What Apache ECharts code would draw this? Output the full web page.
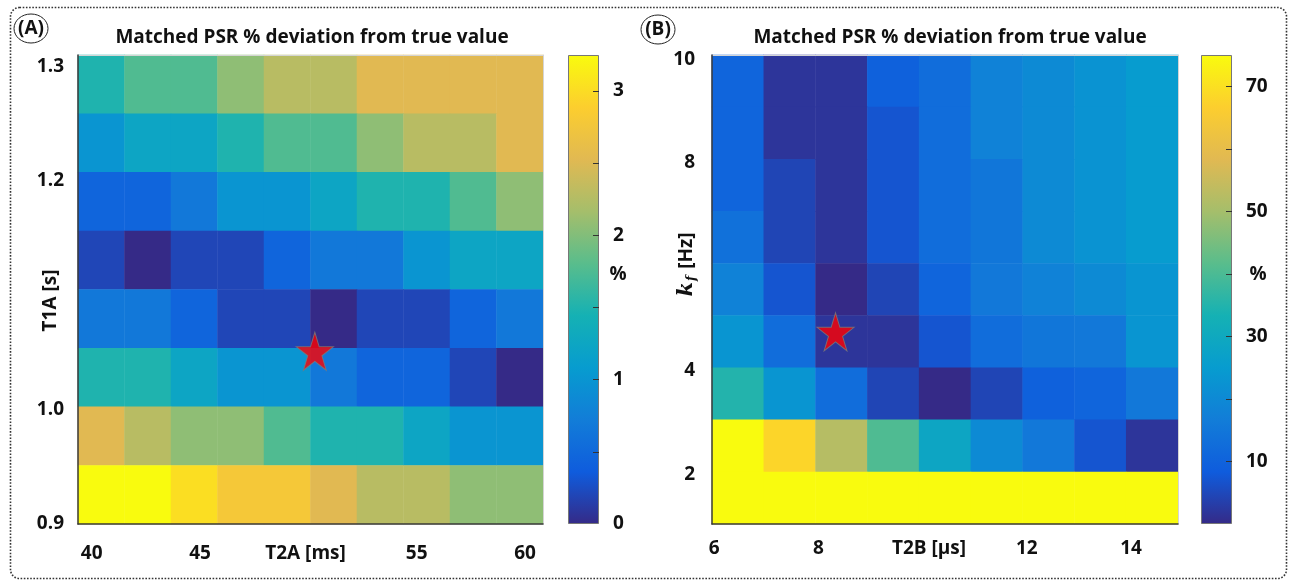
<!DOCTYPE html>
<html>
<head>
<meta charset="utf-8">
<title>Matched PSR % deviation from true value</title>
<script src="https://cdn.jsdelivr.net/npm/echarts@6/dist/echarts.min.js"></script>
<style>
  html, body { margin: 0; padding: 0; background: #fff; }
  #chart { width: 1290px; height: 582px; }
</style>
</head>
<body>
<div id="chart"></div>
<script>
// ---- panel A: T2A columns x T1A rows (rows listed top to bottom) ----
const t2aCells = ['40.4', '42.6', '44.7', '46.9', '49.0', '51.2', '53.3', '55.5', '57.6', '59.8'];
const t1aCells = ['1.28', '1.23', '1.18', '1.13', '1.08', '1.03', '0.98', '0.93'];
const psrDevA = [
  [1.50, 1.76, 1.76, 2.06, 2.28, 2.28, 2.53, 2.53, 2.53, 2.53],
  [1.00, 1.23, 1.23, 1.50, 1.76, 1.76, 2.06, 2.28, 2.28, 2.53],
  [0.46, 0.46, 0.67, 1.00, 1.00, 1.23, 1.50, 1.50, 1.76, 2.06],
  [0.20, 0.00, 0.20, 0.20, 0.46, 0.67, 0.67, 1.00, 1.23, 1.23],
  [0.67, 0.67, 0.46, 0.20, 0.20, 0.00, 0.20, 0.20, 0.46, 0.67],
  [1.50, 1.50, 1.23, 1.00, 1.00, 0.67, 0.46, 0.46, 0.20, 0.00],
  [2.53, 2.28, 2.06, 2.06, 1.76, 1.50, 1.50, 1.23, 1.00, 1.00],
  [3.25, 3.25, 3.02, 2.79, 2.79, 2.53, 2.28, 2.28, 2.06, 2.06]
];
const t2aTicks = [40, 45, 55, 60];
const t1aTicks = [0.9, 1.0, 1.2, 1.3];
const cbarLabelsA = [0, 1, 2, 3];
const cbarTicksA = [0.5, 1, 1.5, 2, 2.5, 3];
const matchA = [50.3, 1.051];

// ---- panel B: T2B columns x kf rows (rows listed top to bottom) ----
const t2bCells = ['6.5', '7.5', '8.5', '9.5', '10.4', '11.4', '12.4', '13.4', '14.4'];
const kfCells = ['9.6', '8.6', '7.6', '6.6', '5.6', '4.6', '3.6', '2.5', '1.5'];
const psrDevB = [
  [10.7, 1.8, 1.8, 9.5, 12.5, 17.9, 20.2, 22.6, 25.0],
  [10.7, 1.8, 1.8, 7.1, 12.5, 17.9, 20.2, 22.6, 25.0],
  [10.7, 4.5, 1.8, 7.1, 12.5, 14.9, 20.2, 22.6, 25.0],
  [13.7, 4.5, 1.8, 7.1, 12.5, 14.9, 20.2, 22.6, 25.0],
  [17.9, 7.1, 0.0, 4.5, 10.7, 15.5, 17.9, 20.2, 23.2],
  [23.2, 12.5, 1.8, 1.8, 7.1, 12.5, 14.9, 15.5, 23.2],
  [35.0, 23.2, 12.5, 4.5, 0.0, 4.5, 9.5, 10.7, 15.5],
  [75.0, 67.9, 52.4, 40.5, 28.6, 20.2, 15.5, 7.1, 1.8],
  [75.0, 75.0, 75.0, 75.0, 75.0, 75.0, 75.0, 75.0, 75.0]
];
const t2bTicks = [6, 8, 12, 14];
const kfTicks = [2, 4, 8, 10];
const cbarLabelsB = [10, 30, 50, 70];
const cbarTicksB = [10, 20, 30, 40, 50, 60, 70];
const matchB = [8.33, 4.75];

// parula (MATLAB R2014a) sampled at 10 even stops
const PARULA = ['#352a87', '#0f5cdd', '#127dd8', '#079ccf', '#15b1b4',
  '#59bd8c', '#a5be6b', '#e1b952', '#fcce2e', '#f9fb0e'];

const FONT = '"Open Sans", Lato, sans-serif';
const INK = '#111';
const STAR = 'path://M50,0 L61.23,34.55 L97.55,34.55 L68.17,55.9 L79.39,90.45 ' +
  'L50,69.1 L20.61,90.45 L31.83,55.9 L2.45,34.55 L38.77,34.55 Z';

const chart = echarts.init(document.getElementById('chart'));

function toCells(matrix) {
  const out = [];
  matrix.forEach((row, r) => row.forEach((v, c) => out.push([c, r, v])));
  return out;
}

function txt(extra) {
  return Object.assign({
    color: INK, fontFamily: FONT, fontSize: 19, fontWeight: 'bold'
  }, extra);
}

function gradient() {
  return new echarts.graphic.LinearGradient(0, 1, 0, 0,
    PARULA.map((c, i) => ({offset: i / (PARULA.length - 1), color: c})));
}

// hidden-label category axis that only draws the light top / right frame edge
function cellAxis(gridIndex, data, position, inverse) {
  return {
    type: 'category', gridIndex: gridIndex, data: data, position: position,
    inverse: !!inverse, z: 9,
    axisLine: {show: true, lineStyle: {color: '#d4d4d4', width: 1}},
    axisTick: {show: false}, axisLabel: {show: false}, splitLine: {show: false}
  };
}

const option = {
  animation: false,
  backgroundColor: '#fff',
  grid: [],
  xAxis: [],
  yAxis: [],
  visualMap: [],
  series: [],
  graphic: []
};

// one heatmap panel with its colorbar
function addPanel(p) {
  const g = option.grid.length;
  const a = option.xAxis.length;
  option.grid.push(
    Object.assign({containLabel: false}, p.plot),
    Object.assign({containLabel: false}, p.cbar)
  );

  option.xAxis.push(
    cellAxis(g, p.xCells, 'top'),
    {
      type: 'value', gridIndex: g, position: 'bottom', min: p.xMin, max: p.xMax, z: 10,
      axisLine: {show: true, onZero: false, lineStyle: {color: '#3a3a3a', width: 1.5}},
      axisTick: {show: false},
      splitLine: {show: false},
      axisLabel: txt({customValues: p.xTicks, margin: p.xMargin}),
      name: p.xName, nameLocation: 'middle', nameGap: p.xMargin, nameMoveOverlap: false,
      nameTextStyle: txt({padding: p.xNamePad})
    },
    {type: 'category', gridIndex: g + 1, data: ['cbar'], show: false}
  );

  option.yAxis.push(
    cellAxis(g, p.yCells, 'right', true),
    {
      type: 'value', gridIndex: g, position: 'left', min: p.yMin, max: p.yMax, z: 10,
      axisLine: {show: true, onZero: false, lineStyle: {color: '#3a3a3a', width: 1.5}},
      axisTick: {show: false},
      splitLine: {show: false},
      axisLabel: txt({customValues: p.yTicks, margin: p.yMargin, formatter: p.yFormat}),
      name: p.yName, nameLocation: 'middle', nameGap: p.yNameGap, nameRotate: 90,
      nameMoveOverlap: false,
      nameTextStyle: txt(p.yNameStyle)
    },
    {
      type: 'value', gridIndex: g + 1, position: 'right', min: 0, max: p.cMax, z: 10,
      axisLine: {show: false},
      splitLine: {show: false},
      axisTick: {
        show: true, inside: true, length: 6, customValues: p.cTicks,
        lineStyle: {color: '#333', width: 1}
      },
      axisLabel: txt({customValues: p.cLabels, margin: 14})
    }
  );

  const s = option.series.length;
  option.series.push(
    {
      type: 'heatmap', xAxisIndex: a, yAxisIndex: a, data: toCells(p.values),
      silent: true, emphasis: {disabled: true}
    },
    {
      type: 'scatter', xAxisIndex: a + 1, yAxisIndex: a + 1, data: [p.match],
      symbol: STAR, symbolSize: [37, 38], z: 6, silent: true,
      itemStyle: {color: '#ff0000', borderColor: '#7a7a7a', borderWidth: 1}
    },
    {
      type: 'bar', xAxisIndex: a + 2, yAxisIndex: a + 2, data: [p.cMax],
      barWidth: '100%', silent: true,
      itemStyle: {color: gradient(), borderColor: '#777', borderWidth: 1}
    }
  );

  option.visualMap.push({
    type: 'continuous', show: false, seriesIndex: s, dimension: 2,
    min: 0, max: p.cMax, inRange: {color: PARULA}
  });
}

addPanel({
  plot: {left: 78, top: 55, width: 465, height: 469},
  cbar: {left: 568, top: 55, width: 31, height: 469},
  xCells: t2aCells, yCells: t1aCells, values: psrDevA,
  xMin: 39.37, xMax: 60.83, xTicks: t2aTicks, xMargin: 20,
  xName: 'T2A [ms]', xNamePad: [0, 10, 0, 0],
  yMin: 0.9, yMax: 1.31, yTicks: t1aTicks, yMargin: 14,
  yFormat: (v) => v.toFixed(1),
  yName: 'T1A [s]', yNameGap: 18, yNameStyle: {padding: [0, 22, 0, 0]},
  cMax: 3.25, cLabels: cbarLabelsA, cTicks: cbarTicksA,
  match: matchA
});

addPanel({
  plot: {left: 712, top: 55, width: 466, height: 469},
  cbar: {left: 1201, top: 55, width: 31, height: 469},
  xCells: t2bCells, yCells: kfCells, values: psrDevB,
  xMin: 5.96, xMax: 14.9, xTicks: t2bTicks, xMargin: 15,
  xName: 'T2B [µs]', xNamePad: [0, 32, 0, 0],
  yMin: 1.05, yMax: 10.08, yTicks: kfTicks, yMargin: 17,
  yFormat: (v) => String(v),
  yName: '{k|k}{f|f} [Hz]', yNameGap: 14,
  yNameStyle: {
    padding: [0, 0, 0, 50],
    rich: {
      k: {fontFamily: '"DejaVu Serif", serif', fontStyle: 'italic', fontWeight: 'bold', fontSize: 21, color: INK},
      f: {fontFamily: '"DejaVu Serif", serif', fontStyle: 'italic', fontWeight: 'bold', fontSize: 12, color: INK, padding: [10, 2, 0, 1]}
    }
  },
  cMax: 75, cLabels: cbarLabelsB, cTicks: cbarTicksB,
  match: matchB
});

// figure frame, panel tags, titles and colorbar units
const titleFont = 'bold 19px ' + FONT;
const tagFont = 'bold 19px ' + FONT;
function label(text, x, y, font) {
  return {
    type: 'text', x: x, y: y, silent: true,
    style: {text: text, font: font, fill: INK, align: 'center', verticalAlign: 'middle', textAlign: 'center', textVerticalAlign: 'middle'}
  };
}
option.graphic = [
  {
    type: 'rect', silent: true,
    shape: {x: 10.5, y: 7.5, width: 1276, height: 571, r: 9},
    style: {fill: null, stroke: '#333', lineWidth: 1.6, lineDash: [1.6, 1.6]}
  },
  {type: 'ellipse', shape: {cx: 31, cy: 28.5, rx: 17, ry: 14.5}, style: {fill: null, stroke: '#222', lineWidth: 1}},
  label('(A)', 31, 29, tagFont),
  {type: 'ellipse', shape: {cx: 658, cy: 29.5, rx: 17, ry: 14.5}, style: {fill: null, stroke: '#222', lineWidth: 1}},
  label('(B)', 658, 30, tagFont),
  label('Matched PSR % deviation from true value', 312, 38, titleFont),
  label('Matched PSR % deviation from true value', 950, 38, titleFont),
  label('%', 618, 275, tagFont),
  label('%', 1258, 275, tagFont)
];

chart.setOption(option);
</script>
</body>
</html>
